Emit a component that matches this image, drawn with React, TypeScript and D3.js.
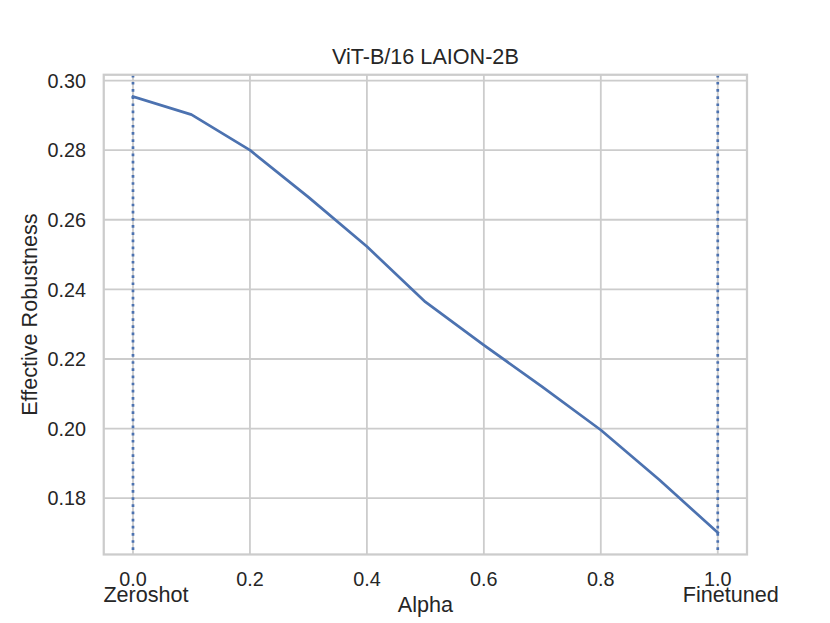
import React from "react";
import * as d3 from "d3";

const alphas = [0, 0.1, 0.2, 0.3, 0.4, 0.5, 0.6, 0.7, 0.8, 0.9, 1.0];
const robustness = [0.2954, 0.2902, 0.28, 0.2665, 0.2523, 0.2364, 0.224, 0.212, 0.1996, 0.1853, 0.1701];
const xTicks = [0, 0.2, 0.4, 0.6, 0.8, 1.0];
const yTicks = [0.18, 0.2, 0.22, 0.24, 0.26, 0.28, 0.3];
const endpointLines = [0, 1];
const endpointLabels = [
  { x: 0, text: "Zeroshot" },
  { x: 1, text: "Finetuned" },
];
const title = "ViT-B/16 LAION-2B";
const xLabel = "Alpha";
const yLabel = "Effective Robustness";

const W = 830;
const H = 623;
const left = 0.125 * W;
const right = 0.9 * W;
const top = H * (1 - 0.88);
const bottom = H * (1 - 0.11);
const FONT = "'Liberation Sans', Arial, Helvetica, sans-serif";
const BLUE = "#4c72b0";
const GRID = "#cccccc";

export default function App() {
  const yMin = d3.min(robustness)!;
  const yMax = d3.max(robustness)!;
  const m = (yMax - yMin) * 0.05;
  const x = d3.scaleLinear().domain([-0.05, 1.05]).range([left, right]);
  const y = d3.scaleLinear().domain([yMin - m, yMax + m]).range([bottom, top]);
  const line = d3
    .line<number>()
    .x((_, i) => x(alphas[i]))
    .y((d) => y(d));

  return (
    <svg
      width={W}
      height={H}
      style={{ position: "absolute", left: 0, top: 0, background: "#fff" }}
      fontFamily={FONT}
    >
      <rect x={0} y={0} width={W} height={H} fill="#fff" />
      {xTicks.map((t) => (
        <line key={"gx" + t} x1={x(t)} x2={x(t)} y1={top} y2={bottom} stroke={GRID} strokeWidth={1.8} />
      ))}
      {yTicks.map((t) => (
        <line key={"gy" + t} x1={left} x2={right} y1={y(t)} y2={y(t)} stroke={GRID} strokeWidth={1.8} />
      ))}
      {endpointLines.map((v) => (
        <line
          key={"v" + v}
          x1={x(v)}
          x2={x(v)}
          y1={top}
          y2={bottom}
          stroke={BLUE}
          strokeWidth={2.7}
          strokeDasharray="2.7 4.46"
        />
      ))}
      <path d={line(robustness) || ""} fill="none" stroke={BLUE} strokeWidth={2.7} strokeLinejoin="round" strokeLinecap="square" />
      <rect x={left} y={top} width={right - left} height={bottom - top} fill="none" stroke={GRID} strokeWidth={2.25} />
      {yTicks.map((t) => (
        <text key={"ty" + t} x={86} y={y(t)} dy="0.36em" textAnchor="end" fontSize={19.8} fill="#262626">
          {d3.format(".2f")(t)}
        </text>
      ))}
      {xTicks.map((t) => (
        <text key={"tx" + t} x={x(t)} y={586} textAnchor="middle" fontSize={19.8} fill="#262626">
          {d3.format(".1f")(t)}
        </text>
      ))}
      {endpointLabels.map((l) => (
        <text key={l.text} x={x(l.x) + 13} y={601.7} textAnchor="middle" fontSize={21.6} fill="#262626">
          {l.text}
        </text>
      ))}
      <text x={(left + right) / 2} y={612.3} textAnchor="middle" fontSize={21.6} fill="#262626">
        {xLabel}
      </text>
      <text
        transform={`translate(36.7, ${(top + bottom) / 2}) rotate(-90)`}
        textAnchor="middle"
        fontSize={21.6}
        fill="#262626"
      >
        {yLabel}
      </text>
      <text x={(left + right) / 2} y={64} textAnchor="middle" fontSize={21.6} fill="#262626">
        {title}
      </text>
    </svg>
  );
}
